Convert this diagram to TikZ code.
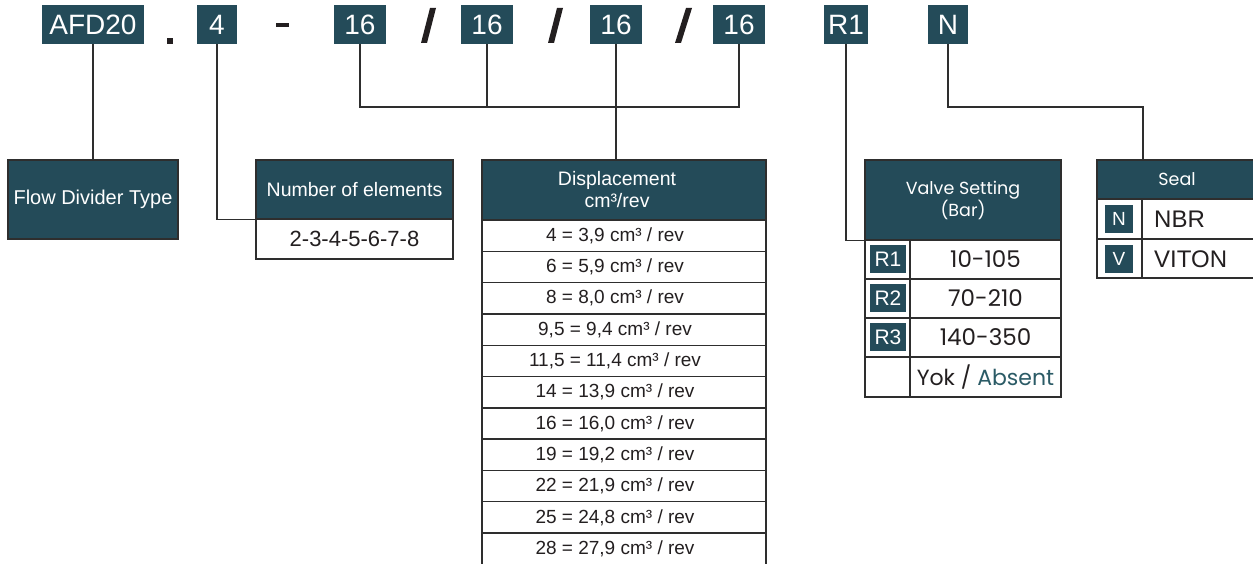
\documentclass[tikz,border=0pt]{standalone}
\usepackage{fontspec}
\setmainfont{Liberation Sans}
\newfontfamily\gfont{Poppins}
\definecolor{dteal}{HTML}{244B59}
\definecolor{linec}{HTML}{2E2E2E}
\definecolor{txtc}{HTML}{231F20}
\definecolor{absc}{HTML}{2B5B66}
\begin{document}
\begin{tikzpicture}[x=1pt,y=-1pt,
  codebox/.style={fill=dteal, text=white, inner sep=0pt, font=\fontsize{28}{28}\selectfont, minimum height=39pt},
  hdrbox/.style={fill=dteal, draw=linec, line width=1.3pt, text=white, align=center, inner sep=0pt},
  cellbox/.style={draw=linec, line width=1.4pt, fill=white, text=txtc, inner sep=0pt},
  badge/.style={fill=dteal, text=white, inner sep=0pt, font=\fontsize{19}{19}\selectfont},
  conn/.style={draw=linec, line width=1.4pt},
  sepmark/.style={fill=txtc}]
\clip (0,0) rectangle (1253,564);
\fill[white] (0,0) rectangle (1253,564);

% code boxes
\node[codebox, minimum width=102pt] (afd) at (93,24.5) {AFD20};
\node[codebox, minimum width=40pt] (four) at (217,24.5) {4};
\node[codebox, minimum width=52pt] (sa) at (360,24.5) {16};
\node[codebox, minimum width=52pt] (sb) at (487,24.5) {16};
\node[codebox, minimum width=52pt] (sc) at (616,24.5) {16};
\node[codebox, minimum width=52pt] (sd) at (739,24.5) {16};
\node[codebox, minimum width=44pt] (rone) at (846,24.5) {R1};
\node[codebox, minimum width=40pt] (nn) at (948,24.5) {N};

% separators
\fill[sepmark] (167,38) rectangle (173,44);
\fill[sepmark] (276,23) rectangle (289,27);
\fill[sepmark] (421,43) -- (427,43) -- (436,8) -- (430,8) -- cycle;
\fill[sepmark] (548,43) -- (554,43) -- (563,8) -- (557,8) -- cycle;
\fill[sepmark] (675,43) -- (681,43) -- (692,8) -- (686,8) -- cycle;

% Flow divider type
\node[hdrbox, minimum width=170pt, minimum height=79pt, font=\fontsize{20}{20}\selectfont] (fdt) at (93,199.5) {Flow Divider Type};

% Number of elements
\node[hdrbox, minimum width=197pt, minimum height=59pt, font=\fontsize{19.5}{19.5}\selectfont] (noeh) at (354.5,189.5) {Number of elements};
\node[cellbox, minimum width=197pt, minimum height=40pt, font=\fontsize{22}{22}\selectfont] (noer) at (354.5,239) {2-3-4-5-6-7-8};

% Displacement
\node[hdrbox, minimum width=284pt, minimum height=60pt, font=\fontsize{19.5}{22}\selectfont] (disph) at (624,190) {Displacement\hspace*{14pt}\\cm³/rev\hspace*{14pt}};
\foreach \t [count=\i from 0] in {4 = 3{,}9 cm³ / rev, 6 = 5{,}9 cm³ / rev, 8 = 8{,}0 cm³ / rev, 9{,}5 = 9{,}4 cm³ / rev, 11{,}5 = 11{,}4 cm³ / rev, 14 = 13{,}9 cm³ / rev, 16 = 16{,}0 cm³ / rev, 19 = 19{,}2 cm³ / rev, 22 = 21{,}9 cm³ / rev, 25 = 24{,}8 cm³ / rev, 28 = 27{,}9 cm³ / rev}
  \node[cellbox, minimum width=284pt, minimum height=31.3pt, font=\fontsize{19}{19}\selectfont] (dr\i) at (624,{220+31.3*(\i+0.5)}) {\t\hspace*{18pt}};

% Valve setting
\node[hdrbox, minimum width=196pt, minimum height=80pt, font=\gfont\fontsize{17.5}{22}\selectfont] (vsh) at (963,200) {Valve Setting\\(Bar)};
\foreach \v/\b [count=\i from 0] in {10-105/R1, 70-210/R2, 140-350/R3}{
  \node[cellbox, minimum width=45pt, minimum height=39pt] (vl\i) at (887.5,{259.5+39*\i}) {};
  \node[cellbox, minimum width=151pt, minimum height=39pt, font=\gfont\fontsize{23}{23}\selectfont] (vr\i) at (985.5,{259.5+39*\i}) {\raisebox{-2pt}{\v}};
  \node[badge, minimum width=36pt, minimum height=28pt, font=\fontsize{21}{21}\selectfont] (vb\i) at (888,{259+39*\i}) {\b};
}
\node[cellbox, minimum width=45pt, minimum height=40pt] (vl3) at (887.5,377) {};
\node[cellbox, minimum width=151pt, minimum height=40pt, font=\gfont\fontsize{22}{22}\selectfont] (vr3) at (985.5,377) {Yok / \textcolor{absc}{Absent}};

% Seal
\node[hdrbox, minimum width=160pt, minimum height=39pt, font=\gfont\fontsize{17.5}{17.5}\selectfont] (sealh) at (1177,179.5) {Seal};
\node[cellbox, minimum width=45pt, minimum height=40pt] (sl0) at (1119.5,219) {};
\node[cellbox, minimum width=115pt, minimum height=40pt] (sr0) at (1199.5,219) {};
\node[cellbox, minimum width=45pt, minimum height=39pt] (sl1) at (1119.5,258.5) {};
\node[cellbox, minimum width=115pt, minimum height=39pt] (sr1) at (1199.5,258.5) {};
\node[badge, minimum width=28pt, minimum height=28pt] (sbn) at (1119,219) {N};
\node[badge, minimum width=28pt, minimum height=28pt] (sbv) at (1119,259) {V};
\node[anchor=west, inner sep=0pt, text=txtc, font=\fontsize{24}{24}\selectfont] (nbr) at (1154,219) {NBR};
\node[anchor=west, inner sep=0pt, text=txtc, font=\fontsize{24}{24}\selectfont] (viton) at (1154,259) {VITON};

% connectors
\coordinate (bus) at (0,107);
\coordinate (nbus) at (1143,107);
\draw[conn] (afd.south) -- (fdt.north);
\draw[conn] (four.south) |- (noeh.south west);
\draw[conn] (sa.south) |- (sd.south |- bus) -- (sd.south);
\draw[conn] (sb.south) -- (sb.south |- bus);
\draw[conn] (sc.south) -- (sc.south |- disph.north);
\draw[conn] (rone.south) |- (vsh.south west);
\draw[conn] (nn.south) |- (nbus) -- (nbus |- sealh.north);
\end{tikzpicture}
\end{document}
